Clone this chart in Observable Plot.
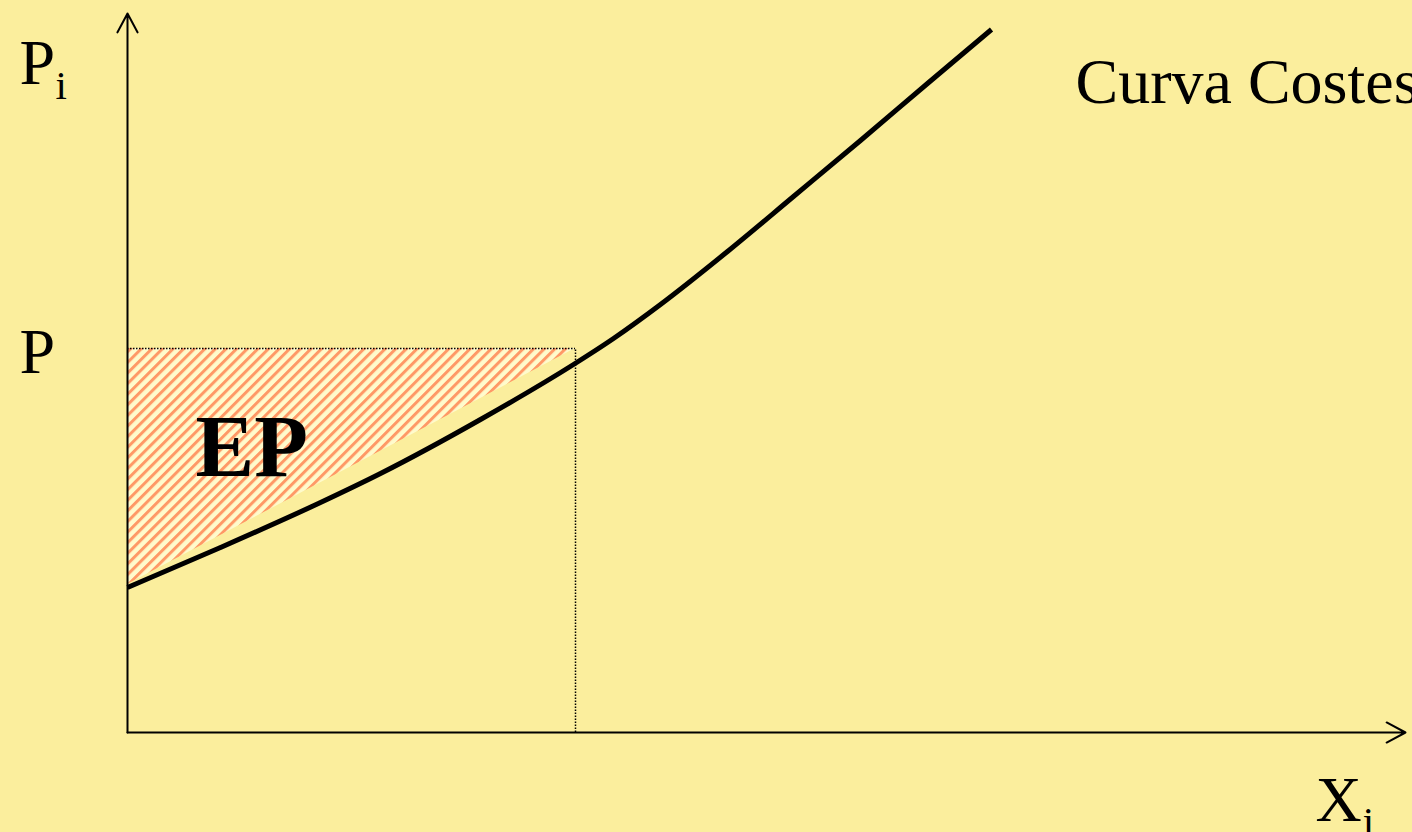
<!DOCTYPE html>
<html>
<head>
<meta charset="utf-8">
<script src="https://cdn.jsdelivr.net/npm/d3@7"></script>
<script src="https://cdn.jsdelivr.net/npm/@observablehq/plot@0.6"></script>
<style>
  html, body { margin: 0; padding: 0; background: #FBEE9D; overflow: hidden; }
  #chart svg { display: block; }
</style>
</head>
<body>
<div id="chart"></div>
<script>
// Cost curve (x = quantity, y = price)
const curveX = [0, 9.3, 19.3, 25.3, 35.3, 44.6, 48.6, 53.3, 60.0, 66.6, 73.3, 80.0, 86.4];
const curveY = [14.5, 18.5, 23.0, 25.9, 31.3, 36.8, 39.4, 42.8, 48.1, 53.6, 59.2, 64.9, 70.3];

// Price level P and the quantity where it meets the curve
const priceP = 38.4;
const quantityP = 44.8;

// Hatched producer surplus (EP) region
const hatchX = [0, 44.8];
const hatchLow = [14.8, 38.4];

// Axis extents
const xAxisEnd = 127.8;
const yAxisEnd = 71.9;

// Labels
const labelText = ["P", "i", "P", "X", "j", "Curva Costes", "EP"];
const labelX = [-10.8, -7.2, -10.8, 118.8, 123.5, 94.8, 6.8];
const labelY = [64.9, 63.4, 36.0, -8.8, -10.2, 63.0, 25.7];
const labelKind = ["main", "sub", "main", "main", "sub", "main", "bold"];

const curve = curveX.map((x, i) => ({x, y: curveY[i]}));
const hatch = hatchX.map((x, i) => ({x, lo: hatchLow[i], hi: priceP}));
const labels = labelText.map((t, i) => ({t, x: labelX[i], y: labelY[i], k: labelKind[i]}));

const defs = () => {
  const d = d3.create("svg:defs");
  const p = d.append("pattern")
    .attr("id", "hatch")
    .attr("patternUnits", "userSpaceOnUse")
    .attr("width", 7.5).attr("height", 7.5)
    .attr("patternTransform", "rotate(45)");
  p.append("rect").attr("width", 7.5).attr("height", 7.5).attr("fill", "#FFFBCC");
  p.append("rect").attr("width", 3).attr("height", 7.5).attr("fill", "#FF9966");
  return d.node();
};

const font = "'Liberation Serif', 'Times New Roman', serif";

const chart = Plot.plot({
  width: 1412,
  height: 832,
  marginLeft: 127,
  marginRight: 5,
  marginTop: 12,
  marginBottom: 100,
  x: {domain: [0, 128], axis: null},
  y: {domain: [0, 72], axis: null},
  style: {background: "#FBEE9D", fontFamily: font, overflow: "visible"},
  marks: [
    defs,
    Plot.areaY(hatch, {x: "x", y1: "lo", y2: "hi", fill: "url(#hatch)"}),
    Plot.ruleY([priceP], {x1: 0, x2: quantityP, stroke: "#000", strokeWidth: 1.5, strokeDasharray: "1.5,1.5"}),
    Plot.ruleX([quantityP], {y1: 0, y2: priceP, stroke: "#000", strokeWidth: 1.5, strokeDasharray: "1.5,1.5"}),
    Plot.arrow([{x1: 0, y1: 0, x2: 0, y2: yAxisEnd}, {x1: 0, y1: 0, x2: xAxisEnd, y2: 0}], {
      x1: "x1", y1: "y1", x2: "x2", y2: "y2",
      stroke: "#000", strokeWidth: 2, headLength: 16, headAngle: 56
    }),
    Plot.line(curve, {x: "x", y: "y", curve: "monotone-x", stroke: "#000", strokeWidth: 5, strokeLinecap: "butt"}),
    Plot.text(labels.filter(d => d.k === "main"), {x: "x", y: "y", text: "t", textAnchor: "start", lineAnchor: "bottom", fontSize: 64, fill: "#000"}),
    Plot.text(labels.filter(d => d.k === "sub"), {x: "x", y: "y", text: "t", textAnchor: "start", lineAnchor: "bottom", fontSize: 41, fill: "#000"}),
    Plot.text(labels.filter(d => d.k === "bold"), {x: "x", y: "y", text: "t", textAnchor: "start", lineAnchor: "bottom", fontSize: 88, fontWeight: "bold", fill: "#000"})
  ]
});
document.getElementById("chart").appendChild(chart);
</script>
</body>
</html>
